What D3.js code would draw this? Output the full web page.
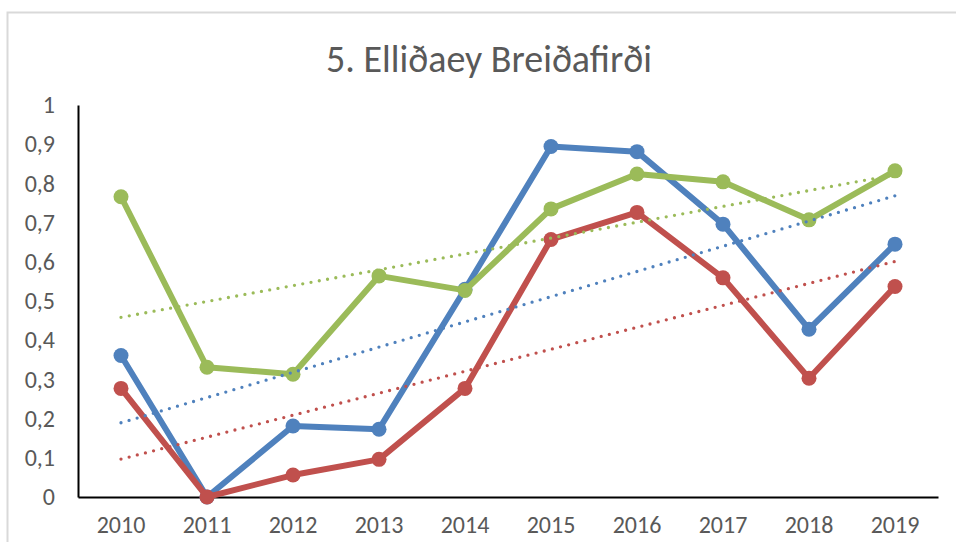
<!DOCTYPE html>
<html>
<head>
<meta charset="utf-8">
<script src="https://cdn.jsdelivr.net/npm/d3@7"></script>
<style>
  body { margin: 0; background: #fff; }
  text { font-family: Carlito, Calibri, "Open Sans", sans-serif; }
</style>
</head>
<body>
<svg id="chart" width="956" height="542"></svg>
<script>
// chart data
const title = "5. Elliðaey Breiðafirði";
const years = ["2010", "2011", "2012", "2013", "2014", "2015", "2016", "2017", "2018", "2019"];
const blueValues  = [0.361, 0.0, 0.181, 0.173, 0.53, 0.894, 0.881, 0.696, 0.428, 0.645];
const redValues   = [0.277, 0.0, 0.056, 0.096, 0.277, 0.657, 0.726, 0.559, 0.303, 0.537];
const greenValues = [0.766, 0.331, 0.313, 0.564, 0.527, 0.735, 0.824, 0.804, 0.707, 0.832];
const yTicks = [0, 0.1, 0.2, 0.3, 0.4, 0.5, 0.6, 0.7, 0.8, 0.9, 1];

const series = [
  { values: blueValues,  color: "#4F81BD" },
  { values: redValues,   color: "#C0504D" },
  { values: greenValues, color: "#9BBB59" }
];

const width = 956;
const height = 542;
const margin = { top: 105, right: 18, bottom: 45, left: 78 };
const labelFont = "Carlito, Calibri, 'Open Sans', sans-serif";

const svg = d3.select("#chart");

// outer chart frame (cut off at right and bottom)
svg.append("rect")
  .attr("x", 7.5)
  .attr("y", 12.5)
  .attr("width", 1000)
  .attr("height", 1000)
  .attr("fill", "none")
  .attr("stroke", "#d9d9d9")
  .attr("stroke-width", 2);

const xScale = d3.scaleBand()
  .domain(years)
  .range([margin.left, width - margin.right]);

const yScale = d3.scaleLinear()
  .domain([0, 1])
  .range([height - margin.bottom, margin.top]);

const xPos = d => xScale(d) + xScale.bandwidth() / 2;

// title
svg.append("text")
  .attr("x", 489)
  .attr("y", 72)
  .attr("text-anchor", "middle")
  .attr("font-size", 38)
  .attr("fill", "#595959")
  .text(title);

// y axis
const yAxis = svg.append("g")
  .attr("transform", `translate(${margin.left}, 0)`)
  .call(d3.axisLeft(yScale)
    .tickValues(yTicks)
    .tickSize(0)
    .tickPadding(23)
    .tickFormat(d => d3.format(".1~f")(d).replace(".", ",")));
yAxis.select(".domain").attr("stroke", "#000").attr("stroke-width", 2);
yAxis.selectAll("text").attr("font-size", 24).attr("fill", "#595959")
  .attr("font-family", labelFont);

// x axis
const xAxis = svg.append("g")
  .attr("transform", `translate(0, ${height - margin.bottom})`)
  .call(d3.axisBottom(xScale).tickSize(0).tickPadding(19));
xAxis.select(".domain").attr("stroke", "#000").attr("stroke-width", 2);
xAxis.selectAll("text").attr("font-size", 24).attr("fill", "#595959")
  .attr("font-family", labelFont);

const line = d3.line()
  .x((d, i) => xPos(years[i]))
  .y(d => yScale(d));

// series lines and markers
series.forEach(s => {
  svg.append("path")
    .datum(s.values)
    .attr("fill", "none")
    .attr("stroke", s.color)
    .attr("stroke-width", 6)
    .attr("stroke-linejoin", "round")
    .attr("d", line);

  svg.selectAll(null)
    .data(s.values)
    .enter()
    .append("circle")
    .attr("cx", (d, i) => xPos(years[i]))
    .attr("cy", d => yScale(d))
    .attr("r", 7.5)
    .attr("fill", s.color);
});

// linear trendlines (least squares, like Excel)
series.forEach(s => {
  const n = s.values.length;
  const mx = d3.mean(d3.range(n));
  const my = d3.mean(s.values);
  const sxy = d3.sum(s.values, (v, i) => (i - mx) * (v - my));
  const sxx = d3.sum(d3.range(n), i => (i - mx) * (i - mx));
  const slope = sxy / sxx;
  const icpt = my - slope * mx;
  const last = n - 1;

  svg.append("line")
    .attr("x1", xPos(years[0]))
    .attr("y1", yScale(icpt))
    .attr("x2", xPos(years[last]))
    .attr("y2", yScale(icpt + slope * last))
    .attr("stroke", s.color)
    .attr("stroke-width", 3.3)
    .attr("stroke-linecap", "round")
    .attr("stroke-dasharray", "0 8.4");
});
</script>
</body>
</html>
